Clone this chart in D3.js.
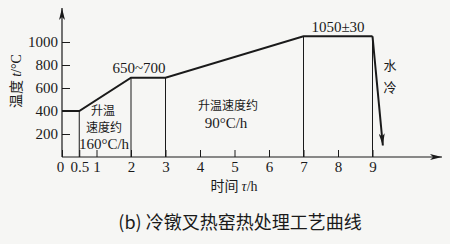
<!DOCTYPE html>
<html>
<head>
<meta charset="utf-8">
<script src="https://cdn.jsdelivr.net/npm/d3@7"></script>
<style>
  body { margin: 0; background: #f6f6f4; }
  svg { display: block; }
  text { fill: #1a1a1a; }
</style>
</head>
<body>
<svg id="chart"></svg>
<script>
// process curve (time h, temperature °C)
const times = [0, 0.5, 2, 3, 7, 9];
const temps = [400, 400, 690, 690, 1050, 1050];
// water quench after holding
const quenchTimes = [9, 9.3];
const quenchTemps = [1050, 100];
// drop lines at the corners of the curve
const guideTimes = [0.5, 2, 3, 7, 9];
const guideTemps = [400, 690, 690, 1050, 1050];
const xTicks = [0, 0.5, 1, 2, 3, 4, 5, 6, 7, 8, 9];
const yTicks = [200, 400, 600, 800, 1000];

const SERIF = "'Liberation Serif', 'DejaVu Serif', 'Times New Roman', serif";
const CJK = "'Noto Sans CJK SC', sans-serif";

const W = 450, H = 244;
const svg = d3.select("#chart").attr("width", W).attr("height", H);

const x = d3.scaleLinear().domain([0, 9]).range([62, 372.5]);
const y = d3.scaleLinear().domain([0, 1000]).range([157, 42]);

const defs = svg.append("defs");
defs.append("marker")
  .attr("id", "arr")
  .attr("viewBox", "0 0 12 6")
  .attr("refX", 12).attr("refY", 3)
  .attr("markerWidth", 12).attr("markerHeight", 6)
  .attr("markerUnits", "userSpaceOnUse")
  .attr("orient", "auto")
  .append("path").attr("d", "M0,0 L12,3 L0,6 L3,3 Z").attr("fill", "#1a1a1a");

// axes
const xAxis = svg.append("g")
  .attr("transform", `translate(0,${y(0)})`)
  .call(d3.axisBottom(x).tickValues(xTicks).tickSize(-7).tickPadding(4)
    .tickFormat(d => d));
xAxis.select(".domain").remove();
xAxis.selectAll("line").attr("stroke", "#1a1a1a");
xAxis.selectAll("text").style("font-family", SERIF).style("font-size", "15px")
  .attr("dy", "0.8em").attr("y", 3).style("fill", "#1a1a1a");
xAxis.selectAll(".tick").filter(d => d === 0).select("text").attr("dx", -2);

const yAxis = svg.append("g")
  .attr("transform", `translate(${x(0)},0)`)
  .call(d3.axisLeft(y).tickValues(yTicks).tickSize(-8).tickPadding(4)
    .tickFormat(d3.format("d")));
yAxis.select(".domain").remove();
yAxis.selectAll("line").attr("stroke", "#1a1a1a");
yAxis.selectAll("text").style("font-family", SERIF).style("font-size", "15px").style("fill", "#1a1a1a");

svg.append("line")
  .attr("x1", x(0)).attr("y1", y(0)).attr("x2", 442).attr("y2", y(0))
  .attr("stroke", "#1a1a1a").attr("stroke-width", 1.2).attr("marker-end", "url(#arr)");
svg.append("line")
  .attr("x1", x(0)).attr("y1", y(0)).attr("x2", x(0)).attr("y2", 8)
  .attr("stroke", "#1a1a1a").attr("stroke-width", 1.2).attr("marker-end", "url(#arr)");

// drop lines
svg.append("g").selectAll("line")
  .data(guideTimes)
  .join("line")
  .attr("x1", d => x(d)).attr("x2", d => x(d))
  .attr("y1", (d, i) => y(guideTemps[i])).attr("y2", y(0))
  .attr("stroke", "#1a1a1a").attr("stroke-width", 1);

// curve
const line = d3.line().x(d => x(d[0])).y(d => y(d[1]));
svg.append("path")
  .datum(times.map((t, i) => [t, temps[i]]))
  .attr("fill", "none").attr("stroke", "#1a1a1a").attr("stroke-width", 2)
  .attr("d", line);

svg.append("path")
  .datum(quenchTimes.map((t, i) => [t, quenchTemps[i]]))
  .attr("fill", "none").attr("stroke", "#1a1a1a").attr("stroke-width", 2)
  .attr("marker-end", "url(#arr)")
  .attr("d", line);

// annotations
const note = (txt, tx, ty, size, fam) =>
  svg.append("text").attr("x", tx).attr("y", ty)
    .attr("text-anchor", "middle")
    .style("font-family", fam).style("font-size", size + "px").text(txt);

note("650~700", 139, 73, 15, SERIF);
note("1050±30", 338, 32, 15, SERIF);
note("升温", 103, 115, 12, CJK);
note("速度约", 104, 132, 12, CJK);
note("160°C/h", 104, 149, 15, SERIF);
note("升温速度约", 228, 110, 12, CJK);
note("90°C/h", 226, 128, 15, SERIF);
note("水", 390, 70, 13, CJK);
note("冷", 390, 92, 13, CJK);

// axis titles
const xt = svg.append("text").attr("x", 234).attr("y", 191)
  .attr("text-anchor", "middle").style("font-size", "14px");
xt.append("tspan").style("font-family", CJK).text("时间  ");
xt.append("tspan").style("font-family", SERIF).style("font-style", "italic").text("τ");
xt.append("tspan").style("font-family", SERIF).text("/h");

const yt = svg.append("text")
  .attr("transform", `translate(21,81) rotate(-90)`)
  .attr("text-anchor", "middle").style("font-size", "14px");
yt.append("tspan").style("font-family", CJK).text("温度 ");
yt.append("tspan").style("font-family", SERIF).style("font-style", "italic").text("t");
yt.append("tspan").style("font-family", SERIF).text("/°C");

// caption
svg.append("text").attr("x", 240).attr("y", 229)
  .attr("text-anchor", "middle").style("font-size", "18px")
  .style("font-family", CJK)
  .text("(b) 冷镦叉热窑热处理工艺曲线");
</script>
</body>
</html>
